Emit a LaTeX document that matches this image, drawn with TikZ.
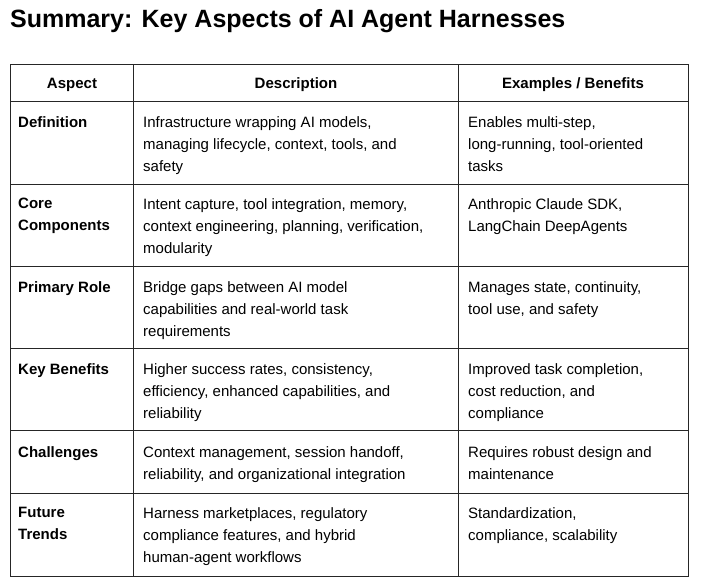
\documentclass[tikz,border=0pt]{standalone}
\usepackage{fontspec}
\setmainfont{Liberation Sans}
\begin{document}
\begin{tikzpicture}[x=1pt,y=-1pt,
  cell/.style={anchor=north west,inner sep=0pt,align=left,font=\fontsize{15}{22}\selectfont},
  hd/.style={anchor=base,inner sep=0pt,font=\fontsize{15}{22}\selectfont\bfseries},
  rule/.style={draw=black!85,line width=0.9pt}]
\useasboundingbox[fill=white] (0,0) rectangle (702,587);
\node[anchor=base west,inner sep=0pt,font=\fontsize{25}{28}\selectfont\bfseries] (title) at (10,27) {Summary: Key Aspects of AI Agent Harnesses};
% grid
\draw[rule] (10,64) rectangle (688,576);
\foreach \y in {101,184,266,348,430,493} \draw[rule] (10,\y) -- (688,\y);
\draw[rule] (133,64) -- (133,576);
\draw[rule] (458,64) -- (458,576);
% header
\node[hd] (h1) at (72,88) {Aspect};
\node[hd] (h2) at (296,88) {Description};
\node[hd] (h3) at (573,88) {Examples / Benefits};
% rows
\node[cell,font=\fontsize{15}{22}\selectfont\bfseries] (a1) at (18,116) {Definition};
\node[cell] (d1) at (143,116) {Infrastructure wrapping AI models,\\managing lifecycle, context, tools, and\\safety};
\node[cell] (e1) at (468,116) {Enables multi-step,\\long-running, tool-oriented\\tasks};
\node[cell,font=\fontsize{15}{22}\selectfont\bfseries] (a2) at (18,198) {Core\\Components};
\node[cell] (d2) at (143,198) {Intent capture, tool integration, memory,\\context engineering, planning, verification,\\modularity};
\node[cell] (e2) at (468,198) {Anthropic Claude SDK,\\LangChain DeepAgents};
\node[cell,font=\fontsize{15}{22}\selectfont\bfseries] (a3) at (18,281) {Primary Role};
\node[cell] (d3) at (143,281) {Bridge gaps between AI model\\capabilities and real-world task\\requirements};
\node[cell] (e3) at (468,281) {Manages state, continuity,\\tool use, and safety};
\node[cell,font=\fontsize{15}{22}\selectfont\bfseries] (a4) at (18,363) {Key Benefits};
\node[cell] (d4) at (143,363) {Higher success rates, consistency,\\efficiency, enhanced capabilities, and\\reliability};
\node[cell] (e4) at (468,363) {Improved task completion,\\cost reduction, and\\compliance};
\node[cell,font=\fontsize{15}{22}\selectfont\bfseries] (a5) at (18,446) {Challenges};
\node[cell] (d5) at (143,446) {Context management, session handoff,\\reliability, and organizational integration};
\node[cell] (e5) at (468,446) {Requires robust design and\\maintenance};
\node[cell,font=\fontsize{15}{22}\selectfont\bfseries] (a6) at (18,507) {Future\\Trends};
\node[cell] (d6) at (143,507) {Harness marketplaces, regulatory\\compliance features, and hybrid\\human-agent workflows};
\node[cell] (e6) at (468,507) {Standardization,\\compliance, scalability};
\end{tikzpicture}
\end{document}
